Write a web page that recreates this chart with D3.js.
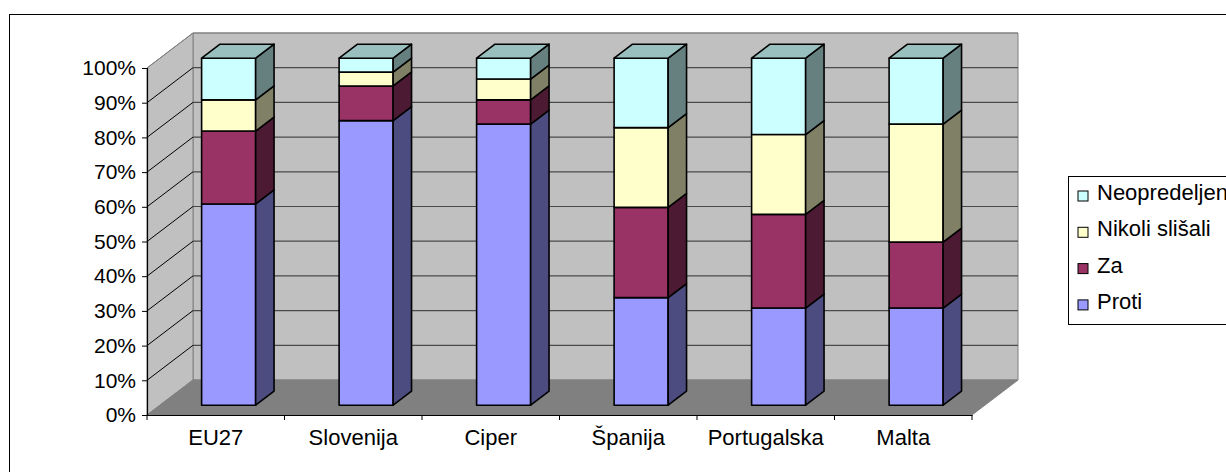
<!DOCTYPE html>
<html>
<head>
<meta charset="utf-8">
<script src="https://cdn.jsdelivr.net/npm/d3@7"></script>
<style>
  body { margin: 0; background: #fff; }
  svg { display: block; font-family: "Liberation Sans", Arial, sans-serif; }
</style>
</head>
<body>
<svg width="1226" height="472"></svg>
<script>
// data (percent per country)
let categories = ['EU27', 'Slovenija', 'Ciper', 'Španija', 'Portugalska', 'Malta']
let seriesNames = ['Proti', 'Za', 'Nikoli slišali', 'Neopredeljen']
let proti = [58, 82, 81, 31, 28, 28]
let za = [21, 10, 7, 26, 27, 19]
let nikoli = [9, 4, 6, 23, 23, 34]
let neopredeljen = [12, 4, 6, 20, 22, 19]
let yTicks = [0, 10, 20, 30, 40, 50, 60, 70, 80, 90, 100]

// colours: front, side, top
let colors = {
    'Proti': ['#9999FF', '#4C4C80', '#7373BF'],
    'Za': ['#993366', '#4D1A33', '#732640'],
    'Nikoli slišali': ['#FFFFCC', '#808066', '#BFBF99'],
    'Neopredeljen': ['#CCFFFF', '#668080', '#99BFBF']
}

let svg = d3.select('svg')

// 3d depth of the plot box
let depthX = 46
let depthY = -35
let barD1 = 0.28
let barD2 = 0.68

let xScale = d3.scaleBand().domain(categories).range([147, 972])
let yScale = d3.scaleLinear().domain([0, 100]).range([415, 68])

let table = categories.map((c, i) => ({
    cat: c, 'Proti': proti[i], 'Za': za[i], 'Nikoli slišali': nikoli[i], 'Neopredeljen': neopredeljen[i]
}))
let stacked = d3.stack().keys(seriesNames)(table)

// outer border
svg.append('rect')
    .attr('x', 9.5).attr('y', 14.5)
    .attr('width', 1300).attr('height', 500)
    .attr('fill', 'none').attr('stroke', '#000')

let x0 = xScale.range()[0]
let x1 = xScale.range()[1]
let yBot = yScale(0)
let yTop = yScale(100)

let pts = (arr) => arr.map(p => p.join(',')).join(' ')

// back wall
svg.append('polygon')
    .attr('points', pts([[x0 + depthX, yTop + depthY], [x1 + depthX, yTop + depthY], [x1 + depthX, yBot + depthY], [x0 + depthX, yBot + depthY]]))
    .attr('fill', '#C0C0C0').attr('stroke', '#808080')

// side wall
svg.append('polygon')
    .attr('points', pts([[x0, yTop], [x0 + depthX, yTop + depthY], [x0 + depthX, yBot + depthY], [x0, yBot]]))
    .attr('fill', '#C0C0C0').attr('stroke', '#808080')

// floor
svg.append('polygon')
    .attr('points', pts([[x0, yBot], [x1, yBot], [x1 + depthX, yBot + depthY], [x0 + depthX, yBot + depthY]]))
    .attr('fill', '#808080').attr('stroke', '#808080')

// gridlines on walls
let grid = svg.append('g')
yTicks.filter(t => t > 0).forEach(t => {
    let yy = yScale(t)
    grid.append('line')
        .attr('x1', x0 + depthX).attr('x2', x1 + depthX)
        .attr('y1', yy + depthY).attr('y2', yy + depthY)
        .attr('stroke', t === 100 ? '#808080' : '#4a4a4a').attr('stroke-width', 1.2)
    grid.append('line')
        .attr('x1', x0).attr('x2', x0 + depthX)
        .attr('y1', yy).attr('y2', yy + depthY)
        .attr('stroke', t === 100 ? '#808080' : '#000').attr('stroke-width', 1)
})

// bars
let barW = xScale.bandwidth() * 0.393
let fdx = barD1 * depthX
let fdy = barD1 * depthY
let sdx = (barD2 - barD1) * depthX
let sdy = (barD2 - barD1) * depthY

let bars = svg.append('g')
stacked.forEach((layer, li) => {
    let key = layer.key
    layer.forEach((seg, ci) => {
        let cat = categories[ci]
        let left = xScale(cat) + (xScale.bandwidth() - barW) / 2 + fdx
        let right = left + barW
        let top = yScale(seg[1]) + fdy
        let bot = yScale(seg[0]) + fdy
        let g = bars.append('g')
            .attr('stroke', '#000').attr('stroke-width', 1.6).attr('stroke-linejoin', 'round')
        g.append('rect')
            .attr('x', left).attr('y', top)
            .attr('width', barW).attr('height', bot - top)
            .attr('fill', colors[key][0])
        g.append('polygon')
            .attr('points', pts([[right, top], [right + sdx, top + sdy], [right + sdx, bot + sdy], [right, bot]]))
            .attr('fill', colors[key][1])
        if (li === stacked.length - 1) {
            g.append('polygon')
                .attr('points', pts([[left, top], [left + sdx, top + sdy], [right + sdx, top + sdy], [right, top]]))
                .attr('fill', colors[key][2])
        }
    })
})

// y axis
let yAxis = d3.axisLeft(yScale)
    .tickValues(yTicks)
    .tickFormat(d => d + '%')
    .tickSize(5)
    .tickPadding(6)
let yg = svg.append('g')
    .attr('transform', 'translate(' + x0 + ',0)')
    .call(yAxis)
yg.select('.domain').attr('stroke', '#000').attr('stroke-width', 1.2)
yg.selectAll('.tick line').attr('stroke', '#000')
yg.selectAll('text').attr('font-size', 21).attr('fill', '#000').attr('font-family', '"Liberation Sans", Arial, sans-serif')

// x axis (labels), ticks drawn on band edges
let xAxis = d3.axisBottom(xScale).tickSize(0).tickPadding(14)
let xg = svg.append('g')
    .attr('transform', 'translate(0,' + yBot + ')')
    .call(xAxis)
xg.select('.domain').attr('stroke', '#000').attr('stroke-width', 1.2)
xg.selectAll('text').attr('font-size', 22).attr('fill', '#000').attr('font-family', '"Liberation Sans", Arial, sans-serif')
let edges = categories.map(c => xScale(c)).concat([x1])
xg.selectAll('.edge')
    .data(edges)
    .enter()
    .append('line')
    .attr('class', 'edge')
    .attr('x1', d => d).attr('x2', d => d)
    .attr('y1', 0).attr('y2', 5)
    .attr('stroke', '#000')

// legend
let legend = svg.append('g')
legend.append('rect')
    .attr('x', 1068.5).attr('y', 176.5)
    .attr('width', 200).attr('height', 148)
    .attr('fill', '#fff').attr('stroke', '#000')
let legendOrder = seriesNames.slice().reverse()
legendOrder.forEach((name, i) => {
    let base = 200 + i * 36.3
    legend.append('rect')
        .attr('x', 1078).attr('y', base - 9)
        .attr('width', 10).attr('height', 10)
        .attr('fill', colors[name][0]).attr('stroke', '#000')
    legend.append('text')
        .attr('x', 1097).attr('y', base)
        .attr('font-size', 22)
        .text(name)
})
</script>
</body>
</html>
